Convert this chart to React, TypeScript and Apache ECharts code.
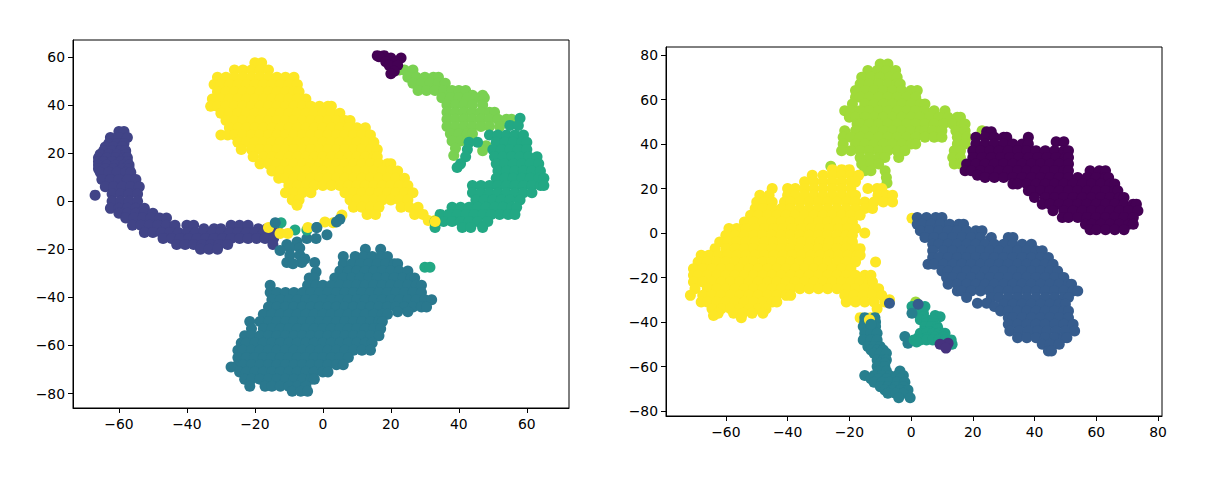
import React, { useEffect, useRef } from "react";
import * as echarts from "echarts";

// every row is [y, [x, x, ...]]
type Row = [number, number[]];

const leftXTicks = [-60, -40, -20, 0, 20, 40, 60];
const leftYTicks = [-80, -60, -40, -20, 0, 20, 40, 60];
const rightXTicks = [-60, -40, -20, 0, 20, 40, 60, 80];
const rightYTicks = [-80, -60, -40, -20, 0, 20, 40, 60, 80];

const leftBlue: Row[] = [
  [29, [-60, -58.5]],
  [26.5, [-62.5, -60, -57.5]],
  [24, [-63, -60.5, -58.5]],
  [22.5, [-64, -61.5, -59]],
  [21, [-64.5, -62, -59.5, -58]],
  [19.5, [-65.5, -63, -60.5, -58]],
  [18, [-66, -63.5, -61, -58.5, -57.5]],
  [16.5, [-66, -64.5, -62, -59.5, -57.5]],
  [15, [-66, -63.5, -61, -58.5, -57]],
  [13.5, [-66, -64, -61.5, -59, -57]],
  [12, [-65.5, -63, -60.5, -58, -56.5]],
  [9, [-65, -62.5, -60, -57.5, -55]],
  [6, [-64, -61.5, -59, -56.5, -54]],
  [3, [-62, -59.5, -57, -54.5]],
  [2.5, [-67]],
  [0, [-62, -59.5, -57, -54.5]],
  [-3, [-62.5, -60, -57.5, -55, -52.5]],
  [-5, [-60, -57.5, -55, -52.5, -50]],
  [-7, [-58, -55.5, -53, -50.5, -48, -46]],
  [-10, [-56, -53.5, -51, -48.5, -46, -43.5, -40, -38, -27, -24.5, -22]],
  [-11.5, [-35, -32, -30, -19, -16.5]],
  [-13, [-52.5, -50, -47.5, -45, -42.5, -40, -37.5, -35, -32.5, -30, -27.5, -25, -22.5, -20, -17.5, -15, -13]],
  [-15.5, [-47, -44.5, -42, -39.5, -37, -34.5, -32, -29.5, -27, -24.5, -22, -19.5, -17, -14.5]],
  [-18, [-43, -40.5, -38, -35.5, -33, -30.5, -28, -14.7]],
  [-20, [-36, -33.5, -31]],
];

const leftYellow: Row[] = [
  [57.5, [-20, -18]],
  [54.5, [-26, -23.5, -21, -18.5, -16]],
  [51.5, [-31, -28.5, -26, -23.5, -21, -18.5, -16, -13.5, -11, -8.5]],
  [48.5, [-32, -30, -27.5, -25, -22.5, -20, -17.5, -15, -12.5, -10, -7.5]],
  [45.5, [-31, -28.5, -26, -23.5, -21, -18.5, -16, -13.5, -11, -8.5, -7]],
  [42.5, [-32.5, -30, -27.5, -25, -22.5, -20, -17.5, -15, -12.5, -10, -7.5, -5]],
  [39.5, [-33, -31, -28.5, -26, -23.5, -21, -18.5, -16, -13.5, -11, -8.5, -6, -3.5, -1, 1.5, 2.5]],
  [36.5, [-30, -27.5, -25, -22.5, -20, -17.5, -15, -12.5, -10, -7.5, -5, -2.5, 0, 2.5, 5]],
  [33.5, [-28.5, -26, -23.5, -21, -18.5, -16, -13.5, -11, -8.5, -6, -3.5, -1, 1.5, 4, 6.5, 8]],
  [30.5, [-27.5, -25, -22.5, -20, -17.5, -15, -12.5, -10, -7.5, -5, -2.5, 0, 2.5, 5, 7.5, 10, 12.5]],
  [27.5, [-30, -28, -26, -23.5, -21, -18.5, -16, -13.5, -11, -8.5, -6, -3.5, -1, 1.5, 4, 6.5, 9, 11.5, 14]],
  [24.5, [-25, -22.5, -20, -17.5, -15, -12.5, -10, -7.5, -5, -2.5, 0, 2.5, 5, 7.5, 10, 12.5, 15]],
  [21.5, [-24, -21, -18.5, -16, -13.5, -11, -8.5, -6, -3.5, -1, 1.5, 4, 6.5, 9, 11.5, 14, 16]],
  [18.5, [-20.5, -17.5, -15, -12.5, -10, -7.5, -5, -2.5, 0, 2.5, 5, 7.5, 10, 12.5, 15, 16]],
  [15.5, [-18.5, -16, -13.5, -11, -8.5, -6, -3.5, -1, 1.5, 4, 6.5, 9, 11.5, 14, 16.5, 19, 20]],
  [12.5, [-15, -12.5, -10, -7.5, -5, -2.5, 0, 2.5, 5, 7.5, 10, 12.5, 15, 17.5, 20, 22]],
  [9.5, [-13, -11, -8.5, -6, -3.5, -1, 1.5, 4, 6.5, 9, 11.5, 14, 16.5, 19, 21.5, 24]],
  [6.5, [-10, -7.5, -5, -2.5, 0, 2.5, 5, 7.5, 10, 12.5, 15, 17.5, 20, 22.5, 25]],
  [3.5, [-11, -8.5, -6, -3.5, 6.5, 9, 11.5, 14, 16.5, 19, 21.5, 24, 26.5]],
  [0.5, [-9, -7, 8, 10, 12.5, 15, 17.5, 20, 22.5, 25]],
  [-2.5, [9, 11.5, 14, 16.5, 23, 25.5, 28]],
  [-5.5, [13, 15.5, 27, 29.5]],
  [-8, [31, 33]],
];

const leftLime: Row[] = [
  [54.5, [22.5, 24, 26.5]],
  [51.5, [25, 27.5, 30, 32.5, 34]],
  [49, [26.5, 29, 31.5, 34, 36]],
  [46, [28, 30.5, 33, 35.5, 38, 40, 42]],
  [44, [44, 47]],
  [43, [35, 37.5, 40, 42.5, 45, 47.5]],
  [40, [36.5, 39, 41.5, 44, 47]],
  [37, [36.5, 39, 41.5, 44, 46.5, 49, 50.5]],
  [34, [36.5, 39, 41.5, 44, 46.5, 49, 51.5, 54, 55.5]],
  [31, [36.5, 39, 41.5, 44, 46.5, 49, 52]],
  [28, [37.5, 40, 42.5, 44]],
  [25, [38, 40.5, 42.5]],
  [23, [48]],
  [22, [39]],
  [21, [47]],
  [19, [38.5]],
];

const leftGreen: Row[] = [
  [34.5, [58]],
  [31.5, [55, 57.5]],
  [27.5, [49, 51.5, 54, 56.5, 59]],
  [24.5, [43, 45.5, 51, 53.5, 56, 58.5, 60]],
  [21.5, [42.5, 50, 52.5, 55, 57.5, 60]],
  [18.5, [42, 50.5, 53, 55.5, 58, 60.5, 63]],
  [15.5, [40.5, 51, 53.5, 56, 58.5, 61, 63.5]],
  [14, [39.5]],
  [12.5, [51.5, 54, 56.5, 59, 61.5, 64]],
  [9.5, [51, 53.5, 56, 58.5, 61, 63.5, 65]],
  [6.5, [44, 46.5, 49, 51.5, 54, 56.5, 59, 61.5, 64, 65]],
  [3.5, [44, 46.5, 49, 51.5, 54, 56.5, 59, 61.5]],
  [0.5, [45, 47.5, 50, 52.5, 55, 58]],
  [-2.5, [38, 40.5, 43, 45.5, 48, 50.5, 53, 55.5, 57]],
  [-5.5, [34.5, 37, 39.5, 42, 44.5, 47, 49.5, 52, 54.5, 56.5]],
  [-8.5, [33, 35.5, 38, 40.5, 43, 45.5, 48.5]],
  [-11, [33, 41, 43.5, 47]],
];

const leftPurple: Row[] = [
  [60.5, [16, 18]],
  [60, [16.5]],
  [59.5, [20, 23]],
  [58, [18.5, 21.5]],
  [56.5, [19.5, 22]],
  [54, [21]],
  [53, [20]],
];

const leftTeal: Row[] = [
  [-11, [-1.8]],
  [-14, [1.2]],
  [-15.5, [-4.7, -2]],
  [-17, [-7.6]],
  [-18, [-10.6]],
  [-19.5, [-9.7, -6.8]],
  [-20.5, [-12.6]],
  [-22.5, [-9.7, -6.8]],
  [-24, [-5.3]],
  [-25.5, [-10.6, -6.2, -2.4]],
  [-26, [-8.8]],
  [-29.5, [-2]],
  [-20, [12.5, 17]],
  [-23, [6, 9.5, 12, 14.5, 17, 19]],
  [-26, [6, 8.5, 11, 13.5, 16, 18.5, 21, 22]],
  [-29, [5, 7.5, 10, 12.5, 15, 17.5, 20, 22.5, 25]],
  [-32, [-4, -2.5, 3.5, 6, 8.5, 11, 13.5, 16, 18.5, 21, 23.5, 26, 27]],
  [-35, [-15.5, -4.5, -2, 0, 2.5, 5, 7.5, 10, 12.5, 15, 17.5, 20, 22.5, 25, 27.5, 29]],
  [-38, [-15.5, -13.5, -11, -8.5, -6, -3.5, -1, 1.5, 4, 6.5, 9, 11.5, 14, 16.5, 19, 21.5, 24, 26.5, 29]],
  [-41, [-15, -12.5, -10, -7.5, -5, -2.5, 0, 2.5, 5, 7.5, 10, 12.5, 15, 17.5, 20, 22.5, 25, 27.5, 30, 32]],
  [-44, [-16, -13.5, -11, -8.5, -6, -3.5, -1, 1.5, 4, 6.5, 9, 11.5, 14, 16.5, 19, 21.5, 24, 26.5, 29, 30.5]],
  [-46, [22, 25]],
  [-47, [-17.5, -15, -12.5, -10, -7.5, -5, -2.5, 0, 2.5, 5, 7.5, 10, 12.5, 15, 17.5, 19]],
  [-50, [-21.5, -18.5, -16, -13.5, -11, -8.5, -6, -3.5, -1, 1.5, 4, 6.5, 9, 11.5, 14, 16.5, 17.5]],
  [-53, [-21, -17.5, -15, -12.5, -10, -7.5, -5, -2.5, 0, 2.5, 5, 7.5, 10, 12.5, 15, 17]],
  [-56, [-23, -21, -18.5, -16, -13.5, -11, -8.5, -6, -3.5, -1, 1.5, 4, 6.5, 9, 11.5, 14, 16.5]],
  [-59, [-24, -22.5, -20, -17.5, -15, -12.5, -10, -7.5, -5, -2.5, 0, 2.5, 5, 7.5, 10, 12.5, 14.5]],
  [-62, [-25, -23.5, -21, -18.5, -16, -13.5, -11, -8.5, -6, -3.5, -1, 1.5, 4, 6.5, 9, 11.5, 14]],
  [-65, [-25, -22.5, -20, -17.5, -15, -12.5, -10, -7.5, -5, -2.5, 0, 2.5, 5, 7.5]],
  [-68, [-25, -23.5, -21, -18.5, -16, -13.5, -11, -8.5, -6, -3.5, -1, 1.5, 4, 6]],
  [-69, [-27]],
  [-71, [-24.5, -22.5, -20, -17.5, -15, -12.5, -10, -7.5, -5, -2.5, 0, 1.5]],
  [-74, [-23, -21, -18.5, -16, -13.5, -11, -8.5, -6, -3.5, -2.5]],
  [-77, [-21.5, -17, -15, -12.5, -10, -7.5, -5]],
  [-79, [-9, -6.5, -4.5]],
];

// small marks that sit on top of the bigger clusters
const leftYellowSpecks: Row[] = [
  [-11, [-16, -4.4]],
  [-13.4, [-12.6, -10.3]],
  [-8.7, [0.6]],
  [-9, [3]],
  [-5.8, [5.6]],
  [-1.7, [-7.6]],
  [-8.5, [33]],
];
const leftGreenSpecks: Row[] = [
  [-9, [-12.3]],
  [-12, [-8.2, -4.7]],
  [-27.5, [30, 31.5]],
];
const leftTealSpecks: Row[] = [
  [-7.5, [5]],
  [-8.7, [4]],
  [-11, [-1.8]],
  [-9, [-14]],
];

const rightLime: Row[] = [
  [76, [-10, -7.5]],
  [73, [-14, -11, -8, -5]],
  [70, [-16, -13, -10, -7, -4.5]],
  [67, [-16.5, -13.5, -10.5, -7.5, -4.5, -3.5]],
  [64, [-18, -15, -12, -9, -6, -3, 0, 2]],
  [61, [-18, -16.5, -13.5, -10.5, -7.5, -4.5, -1.5, 1.5]],
  [58, [-19, -15, -12, -9, -6, -3, 0, 3, 4.5]],
  [55, [-21.5, -19.5, -16.5, -13.5, -10.5, -7.5, -4.5, -1.5, 1.5, 4.5, 7.5, 11]],
  [52, [-20, -18, -15, -12, -9, -6, -3, 0, 3, 6, 9, 12, 15, 16]],
  [49, [-17.5, -16.5, -13.5, -10.5, -7.5, -4.5, -1.5, 1.5, 4.5, 7.5, 10.5, 13.5, 16.5, 17.5]],
  [46, [-21.5, -18, -15, -12, -9, -6, -3, 0, 3, 4.5, 7, 10, 14.5, 17.5]],
  [43, [-22, -19.5, -16.5, -13.5, -10.5, -7.5, -4.5, -1.5, 1.5, 4.5, 7.5, 10, 15, 18]],
  [40, [-22, -18, -15, -12, -9, -6, -3, 0, 1.5, 15, 17.5]],
  [37, [-22.5, -19.5, -16.5, -13.5, -10.5, -7.5, -4.5, -2, 14, 16]],
  [34, [-16.5, -13.5, -10.5, -8.5, -4, 13.5, 16]],
  [31, [-16, -13, -10.5, 14, 16]],
  [30, [-26]],
  [28, [-15, -13, -8.4]],
  [25, [-8]],
  [22.5, [-7.8]],
  [46, [23]],
  [-31, [1.5]],
];

const rightYellow: Row[] = [
  [28.5, [-25.5, -22.5, -20]],
  [26, [-32, -28.5, -25.5, -22.5, -19.5, -17]],
  [23, [-34.5, -31.5, -28.5, -25.5, -22.5, -19.5, -18]],
  [20, [-45, -40, -37.5, -34.5, -31.5, -28.5, -25.5, -22.5, -19.5, -14, -11, -9.5]],
  [17, [-49, -46, -40, -37.5, -34.5, -31.5, -28.5, -25.5, -22.5, -19.5, -18, -10.7, -8, -6]],
  [14, [-50, -47.5, -45, -41, -39, -36, -33, -30, -27, -24, -21, -18, -15, -12, -9, -6]],
  [11, [-50.5, -48, -45, -42, -39, -36, -33, -30, -27, -24, -21, -18, -15, -12.5]],
  [8, [-52, -49.5, -46.5, -43.5, -40.5, -37.5, -34.5, -31.5, -28.5, -25.5, -22.5, -19.5, -16.5]],
  [5, [-54, -51, -48, -45, -42, -39, -36, -33, -30, -27, -24, -21, -19]],
  [2, [-59, -56.5, -53.5, -50.5, -47.5, -44.5, -41.5, -38.5, -35.5, -32.5, -29.5, -26.5, -23.5, -20.5, -18]],
  [-1, [-60, -57, -54, -51, -48, -45, -42, -39, -36, -33, -30, -27, -24, -21, -19]],
  [0, [-15]],
  [-4, [-62, -59.5, -56.5, -53.5, -50.5, -47.5, -44.5, -41.5, -38.5, -35.5, -32.5, -29.5, -26.5, -23.5, -20.5, -19]],
  [-7, [-63.5, -60, -57, -54, -51, -48, -45, -42, -39, -36, -33, -30, -27, -24, -21, -18, -16.5]],
  [-10, [-68, -65.5, -62.5, -59.5, -56.5, -53.5, -50.5, -47.5, -44.5, -41.5, -38.5, -35.5, -32.5, -29.5, -26.5, -23.5, -20.5, -17.5, -16.5]],
  [-13, [-69, -66, -63, -60, -57, -54, -51, -48, -45, -42, -39, -36, -33, -30, -27, -24, -21, -18, -11.5]],
  [-16, [-70.5, -67.5, -64.5, -61.5, -58.5, -55.5, -52.5, -49.5, -46.5, -43.5, -40.5, -37.5, -34.5, -31.5, -28.5, -25.5, -22.5, -19.5]],
  [-19, [-70.5, -69, -66, -63, -60, -57, -54, -51, -48, -45, -42, -39, -36, -33, -30, -27, -24, -21, -18, -15, -13]],
  [-22, [-70.5, -67.5, -64.5, -61.5, -58.5, -55.5, -52.5, -49.5, -46.5, -43.5, -40.5, -37.5, -34.5, -31.5, -28.5, -25.5, -22.5, -19.5, -16.5, -13.5, -12.5]],
  [-25, [-70, -66, -63, -60, -57, -54, -51, -48, -45, -42, -39, -36, -33, -30, -27, -24, -21, -18, -15, -12, -10.5]],
  [-28, [-71.5, -67.5, -64.5, -61.5, -58.5, -55.5, -52.5, -49.5, -46.5, -43.5, -40.5, -39, -21.5, -18.5, -15.5, -12.5, -9.5]],
  [-31, [-68, -66, -63, -60, -57, -54, -51, -48, -45, -43.5, -21, -18, -15, -12, -8.5]],
  [-34, [-64.5, -61.5, -58.5, -55.5, -52.5, -49.5, -47, -11]],
  [-36, [-62.5, -57.5, -54.5, -51.5, -48]],
  [-37, [-64]],
  [-38, [-55, -16.5, -13]],
  [-30, [-7]],
  [6.7, [0.3]],
];

const rightPurple: Row[] = [
  [45.5, [24.5, 26]],
  [43, [21, 24, 27, 30, 31, 38]],
  [41, [47, 49.5]],
  [40, [21, 24, 27, 30, 33, 36, 38]],
  [37, [20, 22.5, 25.5, 28.5, 31.5, 34.5, 37.5, 40.5, 43.5, 46.5, 49.5, 51]],
  [34, [20, 23, 26, 29, 32, 35, 38, 41, 44, 47, 50, 51]],
  [31, [18, 21, 24, 27, 30, 33, 36, 39, 42, 45, 48, 51]],
  [28, [17.5, 19.5, 22.5, 25.5, 28.5, 31.5, 34.5, 37.5, 40.5, 43.5, 46.5, 49.5, 51, 58, 61, 63]],
  [26, [21.5]],
  [25, [24, 27, 30, 33, 36, 39, 42, 45, 48, 51, 54, 57, 60, 63, 64]],
  [22, [33, 34.5, 37.5, 40.5, 43.5, 46.5, 49.5, 52.5, 55.5, 58.5, 61.5, 64.5, 66]],
  [19, [38, 39, 42, 45, 48, 51, 54, 57, 60, 63, 66, 67]],
  [16, [40, 43.5, 46.5, 49.5, 52.5, 55.5, 58.5, 61.5, 64.5, 67.5, 69]],
  [13, [42.5, 45, 48, 51, 54, 57, 60, 63, 66, 69, 72, 73]],
  [10, [46, 49.5, 52.5, 55.5, 58.5, 61.5, 64.5, 67.5, 70.5, 73.5]],
  [7, [49, 51, 54, 57, 60, 63, 66, 69, 72]],
  [4, [56.5, 58.5, 61.5, 64.5, 67.5, 70.5, 72]],
  [1.5, [58, 60, 63, 66, 69]],
];

const rightBlue: Row[] = [
  [7, [2, 5, 8, 10]],
  [4, [2, 3.5, 6.5, 9.5, 12.5, 15.5, 17]],
  [1, [3, 6, 9, 12, 15, 18, 21, 23]],
  [-2, [4.5, 7.5, 10.5, 13.5, 16.5, 19.5, 22.5, 26, 31.5, 33]],
  [-5, [7, 9, 12, 15, 18, 21, 24, 27, 30, 33, 36, 39]],
  [-8, [7, 10.5, 13.5, 16.5, 19.5, 22.5, 25.5, 28.5, 31.5, 34.5, 37.5, 40.5, 42.5]],
  [-11, [7, 9, 12, 15, 18, 21, 24, 27, 30, 33, 36, 39, 42, 44.5]],
  [-14, [5.5, 7.5, 10.5, 13.5, 16.5, 19.5, 22.5, 25.5, 28.5, 31.5, 34.5, 37.5, 40.5, 43.5, 46]],
  [-17, [10, 12, 15, 18, 21, 24, 27, 30, 33, 36, 39, 42, 45, 47.5]],
  [-20, [11.5, 13.5, 16.5, 19.5, 22.5, 25.5, 28.5, 31.5, 34.5, 37.5, 40.5, 43.5, 46.5, 49.5]],
  [-23, [12, 15, 18, 21, 24, 27, 30, 33, 36, 39, 42, 45, 48, 51, 52]],
  [-26, [15, 16.5, 19.5, 22.5, 25.5, 28.5, 31.5, 34.5, 37.5, 40.5, 43.5, 46.5, 49.5, 52.5, 54]],
  [-29, [18, 26, 28.5, 31.5, 34.5, 37.5, 40.5, 43.5, 46.5, 49.5, 51]],
  [-31.5, [21.5, 24.5]],
  [-32, [30, 33, 36, 39, 42, 45, 48, 50]],
  [-33, [27]],
  [-35, [29, 31.5, 34.5, 37.5, 40.5, 43.5, 46.5, 49.5, 51]],
  [-38, [31.5, 33, 36, 39, 42, 45, 48, 51]],
  [-41, [31.5, 34.5, 37.5, 40.5, 43.5, 46.5, 49.5, 52.5]],
  [-44, [32, 35, 38, 41, 44, 47, 50, 53]],
  [-47, [34.5, 37.5, 40.5, 43.5, 46.5, 49.5, 50.5]],
  [-50, [42.5, 45, 48]],
  [-53, [44.5, 45.5]],
  [-31.5, [-7]],
];

const rightTeal: Row[] = [
  [-38, [-15, -11.7]],
  [-40, [-15, -13, -11.5]],
  [-42, [-15.5, -13, -11.5]],
  [-45, [-15, -13, -11]],
  [-48, [-15.5, -13, -11]],
  [-51, [-14, -12, -10]],
  [-52.5, [-13, -11, -9]],
  [-54, [-12, -10, -8]],
  [-57, [-11, -9, -8]],
  [-58.5, [-10, -8.5]],
  [-60, [-11, -8.5]],
  [-62, [-10.5, -8, -3.6]],
  [-64, [-15, -12, -9.5, -7, -4.5, -2.5]],
  [-65.5, [-13, -10.5, -8, -3.5]],
  [-67, [-12, -9.5, -7, -4.5, -2]],
  [-69, [-10, -7.5, -5, -2.5]],
  [-70.5, [-8.5, -6, -3.5, -1]],
  [-72, [-7.5, -5, -2.5]],
  [-74, [-4, -0.3]],
  [-46.5, [-2]],
  [-49.5, [-1]],
];
const rightYellowSpecks: Row[] = [[-39, [-13.5]]];
const rightTealSpecks: Row[] = [
  [-41, [-13]],
  [-36, [0.3]],
];

const rightGreen: Row[] = [
  [-33, [0.3, 4.5]],
  [-34.6, [1.3]],
  [-36, [2, 4]],
  [-37, [7.8]],
  [-37.6, [4, 9.4]],
  [-39, [3, 5, 7]],
  [-40.5, [5, 7]],
  [-42, [4.5, 6.5, 8.5]],
  [-43, [8.7]],
  [-44.4, [4, 6]],
  [-45, [3, 5, 7, 9, 11]],
  [-46.7, [7.8, 10.5]],
  [-47, [2.3, 5]],
  [-48, [1, 3, 5, 7, 9, 11, 13]],
  [-49, [1.8]],
  [-50, [13.3]],
];

const rightViolet: Row[] = [
  [-49.5, [12]],
  [-50, [9.4]],
  [-51.7, [11.3]],
];
const rightBlueSpecks: Row[] = [[-32, [2.3]]];

const points = (rows: Row[]) =>
  rows.flatMap(([y, xs]) => xs.map((x) => [x, y]));

const scatter = (axis: number, color: string, rows: Row[]) => ({
  type: "scatter",
  xAxisIndex: axis,
  yAxisIndex: axis,
  symbolSize: 11,
  progressive: 0,
  itemStyle: { color, opacity: 1 },
  data: points(rows),
});

const tickLabel = (v: number) => String(v).replace("-", "\u2212");

const makeAxis = (grid: number, min: number, max: number, ticks: number[], margin: number) => ({
  type: "value",
  gridIndex: grid,
  min,
  max,
  splitLine: { show: false },
  axisLine: { onZero: false, lineStyle: { color: "#000", width: 1 } },
  axisTick: { length: 5, customValues: ticks, lineStyle: { color: "#000", width: 1 } },
  axisLabel: {
    customValues: ticks,
    formatter: tickLabel,
    color: "#000",
    fontFamily: "DejaVu Sans",
    fontSize: 13.9,
    margin,
  },
});

export default function App() {
  const chartRef = useRef<HTMLDivElement>(null);

  useEffect(() => {
    const chart = echarts.init(chartRef.current!, undefined, { renderer: "svg" });

    chart.setOption({
      animation: false,
      backgroundColor: "#fff",
      grid: [
        { left: 73, top: 40, width: 496, height: 368, show: true, borderColor: "#000", borderWidth: 1 },
        { left: 666, top: 47, width: 496, height: 369, show: true, borderColor: "#000", borderWidth: 1 },
      ],
      xAxis: [
        makeAxis(0, -73.5, 72.4, leftXTicks, 9),
        makeAxis(1, -79.4, 81.3, rightXTicks, 9),
      ],
      yAxis: [
        makeAxis(0, -86, 67, leftYTicks, 8),
        makeAxis(1, -82.2, 83.6, rightYTicks, 8),
      ],
      series: [
        scatter(0, "#414487", leftBlue),
        scatter(0, "#fde725", leftYellow),
        scatter(0, "#7ad151", leftLime),
        scatter(0, "#440154", leftPurple),
        scatter(0, "#2a788e", leftTeal),
        scatter(0, "#22a884", leftGreen),
        scatter(0, "#22a884", leftGreenSpecks),
        scatter(0, "#fde725", leftYellowSpecks),
        scatter(0, "#2a788e", leftTealSpecks),
        scatter(1, "#a0da39", rightLime),
        scatter(1, "#fde725", rightYellow),
        scatter(1, "#440154", rightPurple),
        scatter(1, "#365c8d", rightBlue),
        scatter(1, "#277f8e", rightTeal),
        scatter(1, "#fde725", rightYellowSpecks),
        scatter(1, "#1fa187", rightGreen),
        scatter(1, "#277f8e", rightTealSpecks),
        scatter(1, "#46327e", rightViolet),
        scatter(1, "#365c8d", rightBlueSpecks),
      ],
    });

    return () => {
      chart.dispose();
    };
  }, []);

  return (
    <div
      ref={chartRef}
      style={{ position: "fixed", left: 0, top: 0, width: 1222, height: 489 }}
    />
  );
}
